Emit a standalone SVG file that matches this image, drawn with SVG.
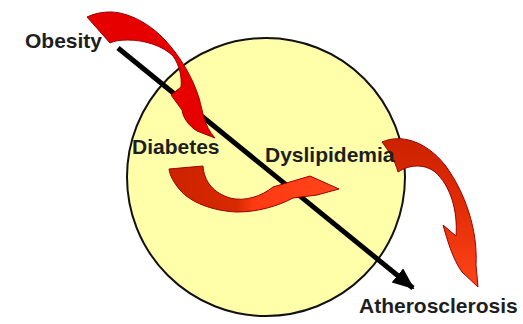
<svg xmlns="http://www.w3.org/2000/svg" width="523" height="324" viewBox="0 0 523 324">
<style>
.lbl{font-family:"Liberation Sans",Arial,sans-serif;font-weight:bold;font-size:21px;fill:#1e1e1e}
.ra{stroke:#9a0000;stroke-width:1;stroke-linejoin:round}
</style>
<defs>
<linearGradient id="g2" x1="170" y1="0" x2="337" y2="0" gradientUnits="userSpaceOnUse">
<stop offset="0" stop-color="#cc2200"/><stop offset="0.4" stop-color="#d82a00"/><stop offset="0.5" stop-color="#ff3a12"/><stop offset="1" stop-color="#ff4418"/>
</linearGradient>
<linearGradient id="g3" x1="0" y1="140" x2="0" y2="287" gradientUnits="userSpaceOnUse">
<stop offset="0" stop-color="#cc2200"/><stop offset="0.4" stop-color="#e02a05"/><stop offset="1" stop-color="#ff4418"/>
</linearGradient>
<marker id="ah" markerWidth="22" markerHeight="18" refX="20" refY="9" orient="auto" markerUnits="userSpaceOnUse">
<path d="M0,0 L22,9 L0,18 Z" fill="#000"/>
</marker>
</defs>
<rect width="523" height="324" fill="#fff"/>
<g id="circle">
<ellipse cx="266" cy="177" rx="139" ry="139" fill="#ffffaa" stroke="#111" stroke-width="2"/>
</g>
<g id="connectors">
<line id="main-axis" x1="118" y1="48" x2="413" y2="288" stroke="#000" stroke-width="5" marker-end="url(#ah)"/>
<path id="arrow-obesity-diabetes" class="ra" fill="#e60000" d="M87,17 C98,12 106,12 112,12 C130,13 150,24 165,40 C180,56 193,78 199,98 C203,112 204,126 215,138 L197,131 C189,126 183,118 182,110 L171,95 L181,87 C182,78 180,66 173,56 C163,46 145,40 128,40 C120,40 114,41 110,43 Z"/>
<path id="arrow-diabetes-dyslipidemia" class="ra" fill="url(#g2)" d="M169,169 L203,166 C204,182 214,193 230,198 C245,202 262,196 273,187 L310,176 L339,189 L317,195 L293,198 C278,206 258,212 237,212 C212,211 190,202 180,190 C174,183 170,176 169,169 Z"/>
<path id="arrow-dyslipidemia-athero" class="ra" fill="url(#g3)" d="M382,142 C400,134 425,140 445,165 C465,192 478,230 476,265 L478,287 L462,272 C455,262 450,250 443,225 L456,236 C458,210 450,185 435,172 C425,164 410,164 398,172 C395,160 388,150 382,142 Z"/>
</g>
<g id="obesity"><text class="lbl" x="25" y="48">Obesity</text></g>
<g id="diabetes"><text class="lbl" x="132" y="154">Diabetes</text></g>
<g id="dyslipidemia"><text class="lbl" x="265" y="162">Dyslipidemia</text></g>
<g id="atherosclerosis"><text class="lbl" x="359" y="313">Atherosclerosis</text></g>
</svg>
